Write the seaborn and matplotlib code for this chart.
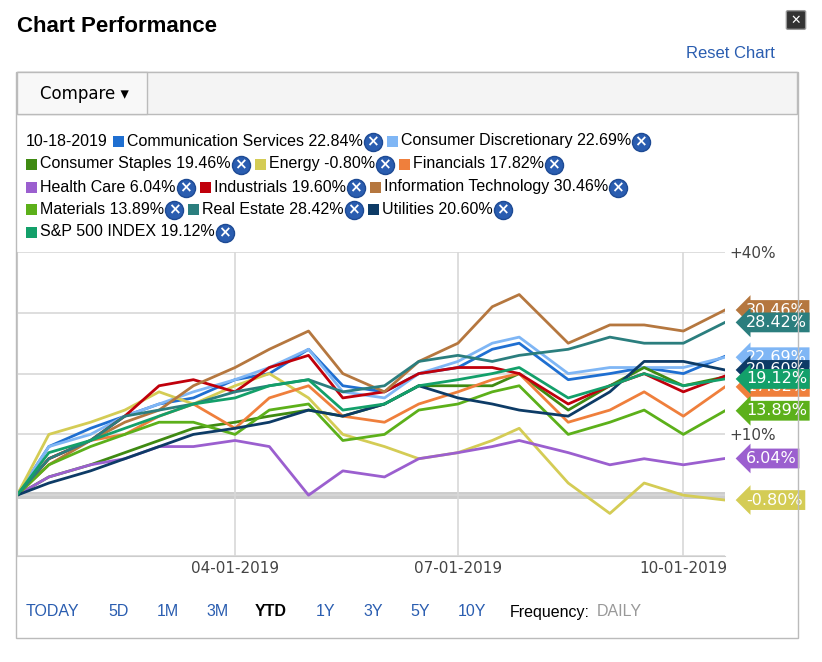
import pandas as pd
import numpy as np
import matplotlib
matplotlib.use("Agg")
import matplotlib.pyplot as plt
import matplotlib.dates as mdates
from matplotlib.patches import Rectangle, FancyBboxPatch
from matplotlib.lines import Line2D
import seaborn as sns

# ================================
# Data
# ================================

dates = pd.to_datetime([
    "2019-01-02", "2019-01-15", "2019-02-01", "2019-02-15", "2019-03-01",
    "2019-03-15", "2019-04-01", "2019-04-15", "2019-05-01", "2019-05-15",
    "2019-06-01", "2019-06-15", "2019-07-01", "2019-07-15", "2019-07-26",
    "2019-08-15", "2019-09-01", "2019-09-15", "2019-10-01", "2019-10-18"])

it = [0, 5, 9, 12, 14, 18, 21, 24, 27, 20, 17, 22, 25, 31, 33, 25, 28, 28, 27, 30.46]
comm = [0, 8, 11, 13, 15, 16, 19, 20, 24, 18, 17, 20, 21, 24, 25, 19, 20, 21, 20, 22.84]
disc = [0, 8, 10, 13, 15, 17, 19, 21, 24, 17, 16, 20, 22, 25, 26, 20, 21, 21, 21, 22.69]
indu = [0, 6, 9, 13, 18, 19, 17, 21, 23, 16, 17, 20, 21, 21, 20, 15, 18, 20, 17, 19.60]
energy = [0, 10, 12, 14, 17, 15, 18, 20, 16, 10, 8, 6, 7, 9, 11, 2, -3, 2, 0, -0.80]
fin = [0, 6, 9, 10, 13, 15, 11, 16, 18, 13, 12, 15, 17, 19, 20, 12, 14, 17, 13, 17.82]
health = [0, 3, 5, 6, 8, 8, 9, 8, 0, 4, 3, 6, 7, 8, 9, 7, 5, 6, 5, 6.04]
mat = [0, 5, 8, 10, 12, 12, 10, 14, 15, 9, 10, 14, 15, 17, 18, 10, 12, 14, 10, 13.89]
reit = [0, 6, 9, 13, 14, 15, 17, 18, 19, 17, 18, 22, 23, 22, 23, 24, 26, 25, 25, 28.42]
util = [0, 2, 4, 6, 8, 10, 11, 12, 14, 13, 15, 18, 16, 15, 14, 13, 17, 22, 22, 20.60]
staples = [0, 3, 5, 7, 9, 11, 12, 13, 14, 13, 15, 18, 18, 18, 20, 14, 18, 21, 18, 19.46]
spx = [0, 7, 9, 11, 13, 15, 16, 18, 19, 14, 15, 18, 19, 20, 21, 16, 18, 20, 18, 19.12]

names = ["Communication Services", "Consumer Discretionary", "Consumer Staples",
         "Energy", "Financials", "Health Care", "Industrials",
         "Information Technology", "Materials", "Real Estate", "Utilities",
         "S&P 500 INDEX"]
series = [comm, disc, staples, energy, fin, health, indu, it, mat, reit, util, spx]
colors = ["#1f6fd1", "#7fb6f5", "#3f8a12", "#d4cc55", "#ef7f3c", "#9b5fcf",
          "#c0000b", "#b5773f", "#5cb01a", "#2b7e7e", "#0d3b66", "#13a06a"]
vals = ["22.84%", "22.69%", "19.46%", "-0.80%", "17.82%", "6.04%", "19.60%",
        "30.46%", "13.89%", "28.42%", "20.60%", "19.12%"]

df = pd.DataFrame({"Date": np.tile(dates, len(names)),
                   "Sector": np.repeat(names, len(dates)),
                   "Change": np.concatenate(series)})

# ================================
# Figure
# ================================

W, H = 822, 662
fig = plt.figure(figsize=(W / 100, H / 100), dpi=100)
fig.patch.set_facecolor("white")

def fx(px):
    return px / W

def fy(py):
    return 1 - py / H

fig.text(fx(17), fy(26), "Chart Performance", fontsize=16, fontweight="bold",
         va="center", family="Liberation Sans")
fig.text(fx(775), fy(54), "Reset Chart", fontsize=12, color="#2a5db0",
         ha="right", va="center", family="Liberation Sans")
fig.patches.append(FancyBboxPatch((fx(788), fy(28)), fx(16), 16 / H,
                                  boxstyle="round,pad=0.002", transform=fig.transFigure,
                                  facecolor="#333333", edgecolor="#999999"))
fig.text(fx(796), fy(20), "✕", fontsize=9, color="white", ha="center",
         va="center", fontweight="bold")

# widget frame
fig.patches.append(Rectangle((fx(16), fy(638)), fx(782), (638 - 72) / H,
                             transform=fig.transFigure, fill=False,
                             edgecolor="#bbbbbb", lw=1))
fig.patches.append(Rectangle((fx(17), fy(114)), fx(780), 42 / H,
                             transform=fig.transFigure, facecolor="#f4f4f4",
                             edgecolor="#bbbbbb", lw=1))
fig.patches.append(Rectangle((fx(17), fy(114)), fx(130), 42 / H,
                             transform=fig.transFigure, facecolor="#f8f8f8",
                             edgecolor="#bbbbbb", lw=1))
fig.text(fx(40), fy(94), "Compare ▾", fontsize=12, va="center",
         family="DejaVu Sans")

def close_icon(x, y):
    fig.add_artist(Line2D([fx(x)], [fy(y)], marker="o", markersize=13,
                          color="#2a5db0", markeredgecolor="#1d4a94",
                          transform=fig.transFigure))
    fig.text(fx(x), fy(y), "×", fontsize=11, color="white", ha="center",
             va="center", fontweight="bold", family="DejaVu Sans")

# legend lines built piece by piece
renderer = fig.canvas.get_renderer()
rows = [["DATE", 0, 1], [2, 3, 4], [5, 6, 7], [8, 9, 10], [11]]
row_y = [141, 164, 187, 209, 232]
for row, yy in zip(rows, row_y):
    x = 26
    for item in row:
        if item == "DATE":
            t = fig.text(fx(x), fy(yy), "10-18-2019", fontsize=11.5, va="center",
                         family="Liberation Sans")
            x += t.get_window_extent(renderer).width + 5
            continue
        fig.patches.append(Rectangle((fx(x), fy(yy + 6)), fx(11), 11 / H,
                                     transform=fig.transFigure,
                                     facecolor=colors[item], edgecolor="none"))
        x += 14
        t = fig.text(fx(x), fy(yy), names[item] + " " + vals[item], fontsize=11.5,
                     va="center", family="Liberation Sans")
        x += t.get_window_extent(renderer).width + 10
        close_icon(x, yy + 1)
        x += 14

# ================================
# Plot
# ================================

ax = fig.add_axes([fx(17), fy(556), fx(708), (556 - 252) / H])
sns.lineplot(data=df, x="Date", y="Change", hue="Sector", palette=colors,
             hue_order=names, lw=2, ax=ax, legend=False)
ax.axhline(0, color="#cccccc", lw=5, zorder=0)
ax.set_xlim(pd.Timestamp("2019-01-02"), pd.Timestamp("2019-10-18"))
ax.set_ylim(-10, 40)
ax.set_yticks([-10, 0, 10, 20, 30, 40])
ax.set_xticks(pd.to_datetime(["2019-04-01", "2019-07-01", "2019-10-01"]))
ax.xaxis.set_major_formatter(mdates.DateFormatter("%m-%d-%Y"))
ax.grid(True, color="#d8d8d8", lw=1.2)
ax.tick_params(length=0, labelsize=11, colors="#444444")
ax.yaxis.tick_right()
ax.set_yticklabels(["", "", "+10%", "", "", "+40%"])
for lbl in ax.get_yticklabels():
    lbl.set_horizontalalignment("left")
for s in ["top", "right"]:
    ax.spines[s].set_visible(False)
for s in ["left", "bottom"]:
    ax.spines[s].set_color("#cccccc")
ax.set_xlabel("")
ax.set_ylabel("")

# end value tags (they overlap in the original too)
order = [7, 9, 1, 10, 4, 11, 8, 5, 3]
for i in order:
    ax.annotate(vals[i], xy=(1.005, series[i][-1]), xycoords=("axes fraction", "data"),
                xytext=(1.03, series[i][-1]), textcoords=("axes fraction", "data"),
                fontsize=11.5, color="white", va="center", ha="left",
                bbox=dict(boxstyle="larrow,pad=0.15", fc=colors[i], ec="none"),
                annotation_clip=False, family="DejaVu Sans")

# bottom buttons
btns = [("TODAY", 26), ("5D", 108), ("1M", 157), ("3M", 206), ("YTD", 255),
        ("1Y", 316), ("3Y", 363), ("5Y", 410), ("10Y", 458)]
for label, x in btns:
    fig.text(fx(x), fy(612), label, fontsize=11.5, va="center",
             color="black" if label == "YTD" else "#2a5db0",
             fontweight="bold" if label == "YTD" else "normal",
             family="Liberation Sans")
fig.text(fx(510), fy(612), "Frequency:", fontsize=11.5, va="center",
         family="Liberation Sans")
fig.text(fx(597), fy(612), "DAILY", fontsize=11.5, va="center", color="#999999",
         family="Liberation Sans")

fig.savefig("out.png", dpi=100)
